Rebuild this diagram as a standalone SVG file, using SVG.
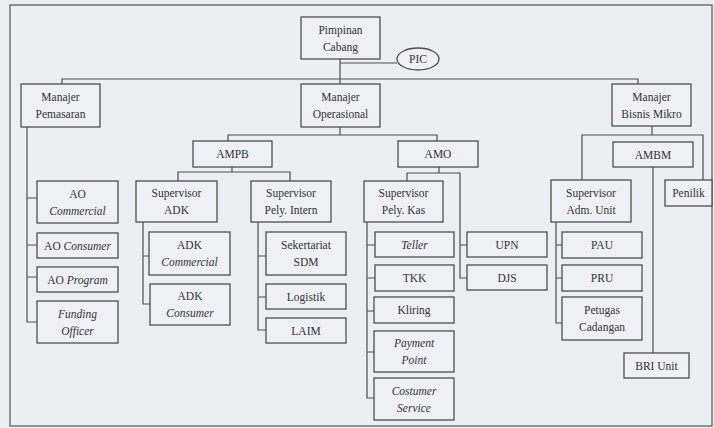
<svg xmlns="http://www.w3.org/2000/svg" width="714" height="428" viewBox="0 0 714 428">
<style>
.bg{fill:#eceef4}
.frame{fill:none;stroke:#6a6a6a;stroke-width:1.4}
.box{fill:#eef0f5;stroke:#4f4f4f;stroke-width:1.3}
.ln{fill:none;stroke:#4f4f4f;stroke-width:1.2}
text{font-family:"Liberation Serif","Times New Roman",serif;font-size:11.5px;fill:#333;text-anchor:middle}
.i{font-style:italic}
</style>
<rect class="bg" x="0" y="0" width="714" height="428"/>
<rect class="frame" x="10" y="5" width="702" height="421"/>
<g id="connectors">
<path class="ln" d="M340,59 V84 M340,63 H397 M62,84 V79 H638 V84"/>
<path class="ln" d="M340,127 V135 M228,141 V135 H437 V141"/>
<path class="ln" d="M27,127 V322 H37 M27,198 H37 M27,245 H37 M27,277 H37"/>
<path class="ln" d="M232,167 V172 M178,181 V172 H290 V181"/>
<path class="ln" d="M143,222 V304 H150 M143,256 H149"/>
<path class="ln" d="M258,222 V330 H266 M258,256 H266 M258,297 H266"/>
<path class="ln" d="M439,167 V173 M407,181 V173 H460 V278 H467 M460,245 H467"/>
<path class="ln" d="M367,222 V398 H374 M367,245 H375 M367,278 H375 M367,311 H374 M367,352 H374"/>
<path class="ln" d="M652,126 V135 M582,180 V135 H703 V180 M653,167 V353"/>
<path class="ln" d="M556,222 V323 H562 M556,245 H562 M556,278 H562"/>
</g>
<g id="pimpinan"><rect class="box" x="301" y="17" width="79" height="42"/><text x="340.5" y="34">Pimpinan</text><text x="340.5" y="51">Cabang</text></g>
<g id="pic"><ellipse class="box" cx="418" cy="59" rx="21" ry="11"/><text x="418" y="63">PIC</text></g>
<g id="manajer-pemasaran"><rect class="box" x="21" y="84" width="79" height="43"/><text x="60.5" y="101">Manajer</text><text x="60.5" y="118">Pemasaran</text></g>
<g id="manajer-operasional"><rect class="box" x="301" y="84" width="79" height="43"/><text x="340.5" y="101">Manajer</text><text x="340.5" y="118">Operasional</text></g>
<g id="manajer-bisnis-mikro"><rect class="box" x="612" y="84" width="79" height="42"/><text x="651.5" y="101">Manajer</text><text x="651.5" y="118">Bisnis Mikro</text></g>
<g id="ampb"><rect class="box" x="193" y="141" width="79" height="26"/><text x="232.5" y="158">AMPB</text></g>
<g id="amo"><rect class="box" x="398" y="141" width="80" height="26"/><text x="438" y="158">AMO</text></g>
<g id="ambm"><rect class="box" x="613" y="142" width="80" height="25"/><text x="653" y="158.5">AMBM</text></g>
<g id="ao-commercial"><rect class="box" x="37" y="181" width="81" height="42"/><text x="77.5" y="198">AO</text><text class="i" x="77.5" y="215">Commercial</text></g>
<g id="ao-consumer"><rect class="box" x="37" y="233" width="81" height="25"/><text x="77.5" y="249.5">AO <tspan class="i">Consumer</tspan></text></g>
<g id="ao-program"><rect class="box" x="37" y="267" width="81" height="25"/><text x="77.5" y="283.5">AO <tspan class="i">Program</tspan></text></g>
<g id="funding-officer"><rect class="box" x="37" y="301" width="81" height="42"/><text class="i" x="77.5" y="318">Funding</text><text class="i" x="77.5" y="335">Officer</text></g>
<g id="supervisor-adk"><rect class="box" x="136" y="181" width="81" height="41"/><text x="176.5" y="197">Supervisor</text><text x="176.5" y="214">ADK</text></g>
<g id="adk-commercial"><rect class="box" x="149" y="232" width="81" height="43"/><text x="189.5" y="249">ADK</text><text class="i" x="189.5" y="266">Commercial</text></g>
<g id="adk-consumer"><rect class="box" x="150" y="284" width="80" height="41"/><text x="190" y="300">ADK</text><text class="i" x="190" y="317">Consumer</text></g>
<g id="supervisor-pely-intern"><rect class="box" x="251" y="181" width="80" height="41"/><text x="291" y="197">Supervisor</text><text x="291" y="214">Pely. Intern</text></g>
<g id="sekretariat-sdm"><rect class="box" x="266" y="232" width="80" height="43"/><text x="306" y="249">Sekertariat</text><text x="306" y="266">SDM</text></g>
<g id="logistik"><rect class="box" x="266" y="284" width="80" height="25"/><text x="306" y="300.5">Logistik</text></g>
<g id="laim"><rect class="box" x="266" y="318" width="80" height="25"/><text x="306" y="334.5">LAIM</text></g>
<g id="supervisor-pely-kas"><rect class="box" x="364" y="181" width="79" height="41"/><text x="403.5" y="197">Supervisor</text><text x="403.5" y="214">Pely. Kas</text></g>
<g id="teller"><rect class="box" x="375" y="232" width="79" height="25"/><text class="i" x="414.5" y="248.5">Teller</text></g>
<g id="tkk"><rect class="box" x="375" y="265" width="79" height="26"/><text x="414.5" y="282">TKK</text></g>
<g id="kliring"><rect class="box" x="374" y="297" width="80" height="26"/><text x="414" y="314">Kliring</text></g>
<g id="payment-point"><rect class="box" x="374" y="331" width="80" height="41"/><text class="i" x="414" y="347">Payment</text><text class="i" x="414" y="364">Point</text></g>
<g id="costumer-service"><rect class="box" x="374" y="378" width="80" height="42"/><text class="i" x="414" y="395">Costumer</text><text class="i" x="414" y="412">Service</text></g>
<g id="upn"><rect class="box" x="467" y="232" width="80" height="25"/><text x="507" y="248.5">UPN</text></g>
<g id="djs"><rect class="box" x="467" y="265" width="80" height="25"/><text x="507" y="281.5">DJS</text></g>
<g id="supervisor-adm-unit"><rect class="box" x="551" y="180" width="80" height="42"/><text x="591" y="197">Supervisor</text><text x="591" y="214">Adm. Unit</text></g>
<g id="pau"><rect class="box" x="562" y="232" width="80" height="26"/><text x="602" y="249">PAU</text></g>
<g id="pru"><rect class="box" x="562" y="265" width="80" height="26"/><text x="602" y="282">PRU</text></g>
<g id="petugas-cadangan"><rect class="box" x="562" y="297" width="80" height="43"/><text x="602" y="314">Petugas</text><text x="602" y="331">Cadangan</text></g>
<g id="penilik"><rect class="box" x="665" y="180" width="47" height="26"/><text x="688.5" y="197">Penilik</text></g>
<g id="bri-unit"><rect class="box" x="624" y="353" width="65" height="25"/><text x="656.5" y="369.5">BRI Unit</text></g>
</svg>
